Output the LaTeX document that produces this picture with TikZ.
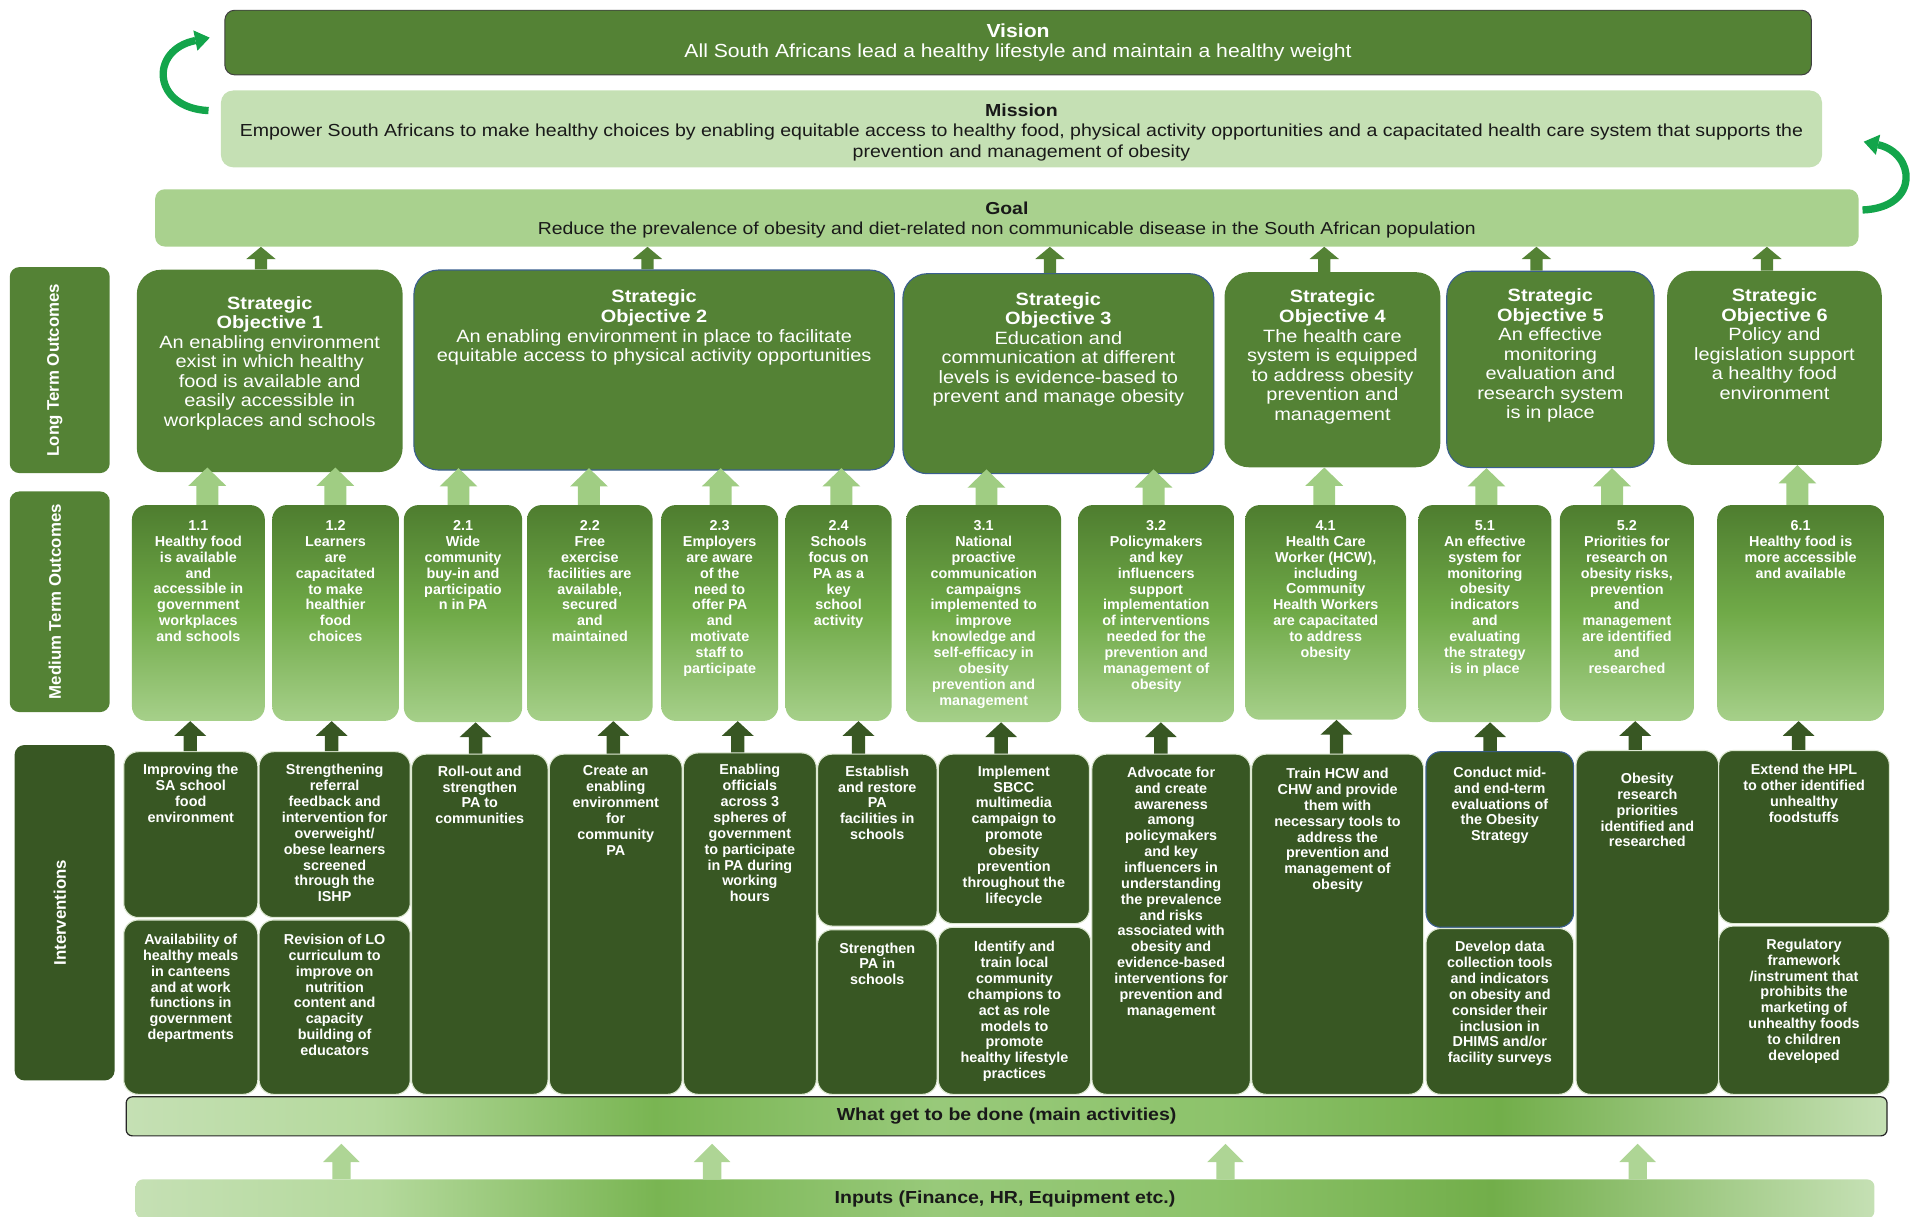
\documentclass[tikz,border=0pt]{standalone}
\usepackage{fontspec}
\setmainfont{Liberation Sans}
\newfontfamily\widefont{Liberation Sans}[FakeStretch=1.12]
\usetikzlibrary{calc,arrows.meta}
\definecolor{vgreen}{HTML}{548235}
\definecolor{dgreen}{HTML}{385723}
\definecolor{ggreen}{HTML}{A9D18E}
\definecolor{mgreen}{HTML}{C5E0B4}
\definecolor{mtotop}{HTML}{4E7D2F}
\definecolor{mtomid}{HTML}{70AA48}
\definecolor{mtobot}{HTML}{A6D08A}
\definecolor{soblue}{HTML}{3A5F8F}
\definecolor{intedge}{HTML}{DDE8D2}
\definecolor{larr}{HTML}{A0CD83}
\definecolor{inarr}{HTML}{AED595}
\definecolor{curvgreen}{HTML}{13A54B}
\definecolor{bs1}{HTML}{B4D99C}
\definecolor{bs2}{HTML}{79B552}
\definecolor{bs3}{HTML}{98C97A}
\definecolor{bs4}{HTML}{8DC36B}
\definecolor{bs5}{HTML}{72AE4A}
\pgfdeclarehorizontalshading{barshade}{100bp}{color(0bp)=(mgreen); color(25bp)=(mgreen); color(32bp)=(bs1); color(40bp)=(bs2); color(48bp)=(bs3); color(56bp)=(bs4); color(64bp)=(bs5); color(75bp)=(mgreen); color(100bp)=(mgreen)}
% box with top-aligned text: name, style, x1, y1, x2, y2, text style, text top y, text
\newcommand\BoxT[9]{%
  \node[#2, anchor=north west, minimum width={#5pt-#3pt}, minimum height={#6pt-#4pt}] (#1) at (#3,#4) {};
  \node[#7, anchor=north] (#1t) at (#1.north |- 0,#8) {#9};}
% centred box: name, style, x1, y1, x2, y2, text
\newcommand\BoxC[7]{%
  \node[#2, anchor=north west, minimum width={#5pt-#3pt}, minimum height={#6pt-#4pt}] (#1) at (#3,#4) {#7};}
% block arrow: x, lower anchor, upper anchor, colour, half head width, half stem width, head length
\newcommand\Blk[7]{%
  \fill[#4] let \p1=(#2), \p2=(#3) in
    ({(#1-#6)*1pt},\y1) -- ({(#1-#6)*1pt},{\y2-#7pt}) -- ({(#1-#5)*1pt},{\y2-#7pt}) --
    ({#1pt},\y2) -- ({(#1+#5)*1pt},{\y2-#7pt}) -- ({(#1+#6)*1pt},{\y2-#7pt}) --
    ({(#1+#6)*1pt},\y1) -- cycle;}
\begin{document}
\begin{tikzpicture}[x=1pt,y=-1pt,
  visbox/.style={fill=vgreen, draw=black!75, line width=0.8pt, rounded corners=8pt, inner sep=0pt,
     text=white, align=center, font=\widefont\fontsize{15.5}{17}\selectfont},
  misbox/.style={fill=mgreen, rounded corners=10pt, inner sep=0pt},
  mistext/.style={text=black!90, align=center, inner sep=0pt, font=\widefont\fontsize{14.3}{17}\selectfont},
  goalbox/.style={fill=ggreen, rounded corners=8pt, inner sep=0pt},
  goaltext/.style={text=black!90, align=center, inner sep=0pt, font=\widefont\fontsize{14.2}{16}\selectfont},
  sobox/.style={fill=vgreen, rounded corners=20pt, inner sep=0pt},
  sobluebox/.style={sobox, draw=soblue, line width=0.9pt},
  sotext/.style={text=white, align=center, inner sep=0pt, font=\widefont\fontsize{14.6}{16}\selectfont},
  mtobox/.style={top color=mtotop, bottom color=mtobot, middle color=mtomid, rounded corners=12pt, inner sep=0pt},
  mtext/.style={text=white, align=center, inner sep=0pt, font=\bfseries\fontsize{11.8}{13}\selectfont},
  intbox/.style={fill=dgreen, draw=intedge, line width=0.9pt, rounded corners=12pt, inner sep=0pt},
  intbluebox/.style={intbox, draw=soblue},
  sidebox/.style={fill=vgreen, rounded corners=8pt, inner sep=0pt},
  sidetext/.style={text=white, rotate=90, inner sep=0pt, font=\bfseries\fontsize{13.8}{16}\selectfont},
  barbox/.style={shading=barshade, rounded corners=5pt, inner sep=0pt, text=black!90,
     font=\widefont\bfseries\fontsize{14.3}{16}\selectfont},
  curvarr/.style={draw=curvgreen, line width=6pt, -{Triangle[width=17pt,length=12pt,line width=0pt]}}
]
\useasboundingbox (0,0) rectangle (1568,998);

% ---------- top tier ----------
\BoxC{vision}{visbox}{184}{8}{1485}{61}{\textbf{Vision}\\All South Africans lead a healthy lifestyle and maintain a healthy weight}
\BoxT{mission}{misbox}{181}{74}{1494}{137}{mistext}{84.6}{\textbf{Mission}\\Empower South Africans to make healthy choices by enabling equitable access to healthy food, physical activity opportunities and a capacitated health care system that supports the\\prevention and management of obesity}
\BoxT{goal}{goalbox}{127}{155}{1524}{202}{goaltext}{165.8}{\textbf{Goal}\\Reduce the prevalence of obesity and diet-related non communicable disease in the South African population}

\coordinate (la1) at ([xshift=-10pt,yshift=15pt]mission.west);
\coordinate (la2) at ([xshift=-12pt,yshift=4pt]vision.west);
\draw[curvarr] (la1) .. controls +(-46,-2) and +(-50,10) .. (la2);
\coordinate (ra1) at ([xshift=3pt,yshift=6.5pt]goal.east);
\coordinate (ra2) at ([xshift=34pt,yshift=-10.5pt]mission.east);
\draw[curvarr] (ra1) .. controls +(48,-2) and +(42,9) .. (ra2);

% ---------- side labels ----------
\node[sidebox, minimum width=82pt, minimum height=169pt] (lto) at (49,303.5) {};
\node[sidetext] (ltot) at ([xshift=-4pt]lto.center) {Long Term Outcomes};
\node[sidebox, minimum width=82pt, minimum height=181pt] (mto) at (49,493.5) {};
\node[sidetext] (mtot) at ([xshift=-4pt]mto.center) {Medium Term Outcomes};
\node[sidebox, fill=dgreen, minimum width=82pt, minimum height=275pt] (ivl) at (53,748.5) {};
\node[sidetext] (ivlt) at ([xshift=-4pt]ivl.center) {Interventions};

% ---------- strategic objectives ----------
\BoxT{so1}{sobox}{112}{221}{330}{387}{sotext}{242.7}{\textbf{Strategic}\\\textbf{Objective 1}\\An enabling environment\\exist in which healthy\\food is available and\\easily accessible in\\workplaces and schools}
\BoxT{so2}{sobluebox}{339}{221}{733}{385}{sotext}{237.7}{\textbf{Strategic}\\\textbf{Objective 2}\\An enabling environment in place to facilitate\\equitable access to physical activity opportunities}
\BoxT{so3}{sobluebox}{740}{224}{995}{388}{sotext}{239.7}{\textbf{Strategic}\\\textbf{Objective 3}\\Education and\\communication at different\\levels is evidence-based to\\prevent and manage obesity}
\BoxT{so4}{sobox}{1004}{223}{1181}{383}{sotext}{237.7}{\textbf{Strategic}\\\textbf{Objective 4}\\The health care\\system is equipped\\to address obesity\\prevention and\\management}
\BoxT{so5}{sobluebox}{1186}{222}{1356}{383}{sotext}{236.7}{\textbf{Strategic}\\\textbf{Objective 5}\\An effective\\monitoring\\evaluation and\\research system\\is in place}
\BoxT{so6}{sobox}{1367}{222}{1543}{381}{sotext}{236.7}{\textbf{Strategic}\\\textbf{Objective 6}\\Policy and\\legislation support\\a healthy food\\environment}

% ---------- medium term outcomes ----------
\BoxT{m11}{mtobox}{108}{414}{217}{591}{mtext}{426.8}{1.1\\Healthy food\\is available\\and\\accessible in\\government\\workplaces\\and schools}
\BoxT{m12}{mtobox}{223}{414}{327}{591}{mtext}{426.8}{1.2\\Learners\\are\\capacitated\\to make\\healthier\\food\\choices}
\BoxT{m21}{mtobox}{331}{414}{428}{592}{mtext}{426.8}{2.1\\Wide\\community\\buy-in and\\participatio\\n in PA}
\BoxT{m22}{mtobox}{432}{414}{535}{591}{mtext}{426.8}{2.2\\Free\\exercise\\facilities are\\available,\\secured\\and\\maintained}
\BoxT{m23}{mtobox}{542}{414}{638}{591}{mtext}{426.8}{2.3\\Employers\\are aware\\of the\\need to\\offer PA\\and\\motivate\\staff to\\participate}
\BoxT{m24}{mtobox}{644}{414}{731}{591}{mtext}{426.8}{2.4\\Schools\\focus on\\PA as a\\key\\school\\activity}
\BoxT{m31}{mtobox}{743}{414}{870}{592}{mtext}{426.8}{3.1\\National\\proactive\\communication\\campaigns\\implemented to\\improve\\knowledge and\\self-efficacy in\\obesity\\prevention and\\management}
\BoxT{m32}{mtobox}{884}{414}{1012}{592}{mtext}{426.8}{3.2\\Policymakers\\and key\\influencers\\support\\implementation\\of interventions\\needed for the\\prevention and\\management of\\obesity}
\BoxT{m41}{mtobox}{1021}{414}{1153}{590}{mtext}{426.8}{4.1\\Health Care\\Worker (HCW),\\including\\Community\\Health Workers\\are capacitated\\to address\\obesity}
\BoxT{m51}{mtobox}{1163}{414}{1272}{592}{mtext}{426.8}{5.1\\An effective\\system for\\monitoring\\obesity\\indicators\\and\\evaluating\\the strategy\\is in place}
\BoxT{m52}{mtobox}{1279}{414}{1389}{591}{mtext}{426.8}{5.2\\Priorities for\\research on\\obesity risks,\\prevention\\and\\management\\are identified\\and\\researched}
\BoxT{m61}{mtobox}{1408}{414}{1545}{591}{mtext}{426.8}{6.1\\Healthy food is\\more accessible\\and available}

% ---------- interventions ----------
\BoxT{c1a}{intbox}{101}{616}{211}{752}{mtext}{626.8}{Improving the\\SA school\\food\\environment}
\BoxT{c1b}{intbox}{101}{754}{211}{897}{mtext}{765.8}{Availability of\\healthy meals\\in canteens\\and at work\\functions in\\government\\departments}
\BoxT{c2a}{intbox}{212}{616}{336}{752}{mtext}{626.8}{Strengthening\\referral\\feedback and\\intervention for\\overweight/\\obese learners\\screened\\through the\\ISHP}
\BoxT{c2b}{intbox}{212}{754}{336}{897}{mtext}{765.8}{Revision of LO\\curriculum to\\improve on\\nutrition\\content and\\capacity\\building of\\educators}
\BoxT{c3}{intbox}{337}{618}{449}{897}{mtext}{627.8}{Roll-out and\\strengthen\\PA to\\communities}
\BoxT{c4}{intbox}{450}{618}{559}{897}{mtext}{627.8}{Create an\\enabling\\environment\\for\\community\\PA}
\BoxT{c5}{intbox}{560}{617}{669}{897}{mtext}{626.8}{Enabling\\officials\\across 3\\spheres of\\government\\to participate\\in PA during\\working\\hours}
\BoxT{c6a}{intbox}{670}{618}{768}{759}{mtext}{627.8}{Establish\\and restore\\PA\\facilities in\\schools}
\BoxT{c6b}{intbox}{670}{762}{768}{897}{mtext}{772.8}{Strengthen\\PA in\\schools}
\BoxT{c7a}{intbox}{769}{618}{893}{757}{mtext}{627.8}{Implement\\SBCC\\multimedia\\campaign to\\promote\\obesity\\prevention\\throughout the\\lifecycle}
\BoxT{c7b}{intbox}{769}{760}{894}{897}{mtext}{771.8}{Identify and\\train local\\community\\champions to\\act as role\\models to\\promote\\healthy lifestyle\\practices}
\BoxT{c8}{intbox}{895}{618}{1025}{897}{mtext}{628.8}{Advocate for\\and create\\awareness\\among\\policymakers\\and key\\influencers in\\understanding\\the prevalence\\and risks\\associated with\\obesity and\\evidence-based\\interventions for\\prevention and\\management}
\BoxT{c9}{intbox}{1026}{618}{1167}{897}{mtext}{629.8}{Train HCW and\\CHW and provide\\them with\\necessary tools to\\address the\\prevention and\\management of\\obesity}
\BoxT{c10a}{intbluebox}{1169}{616}{1290}{760}{mtext}{628.8}{Conduct mid-\\and end-term\\evaluations of\\the Obesity\\Strategy}
\BoxT{c10b}{intbox}{1169}{761}{1290}{897}{mtext}{771.8}{Develop data\\collection tools\\and indicators\\on obesity and\\consider their\\inclusion in\\DHIMS and/or\\facility surveys}
\BoxT{c11}{intbox}{1292}{615}{1409}{897}{mtext}{633.8}{Obesity\\research\\priorities\\identified and\\researched}
\BoxT{c12a}{intbox}{1409}{615}{1549}{757}{mtext}{626.8}{Extend the HPL\\to other identified\\unhealthy\\foodstuffs}
\BoxT{c12b}{intbox}{1409}{759}{1549}{897}{mtext}{769.8}{Regulatory\\framework\\/instrument that\\prohibits the\\marketing of\\unhealthy foods\\to children\\developed}

% ---------- bottom bars ----------
\node[barbox, draw=black!85, line width=1pt, anchor=north west, minimum width=1444pt, minimum height=32pt] (act) at (103,899) {What get to be done (main activities)};
\node[barbox, rounded corners=6pt, anchor=north west, minimum width=1426pt, minimum height=32pt] (inp) at (111,967) {Inputs (Finance, HR, Equipment etc.)};

% ---------- block arrows ----------
% SO -> goal
\Blk{214}{so1.north}{goal.south}{vgreen}{12}{5}{10}
\Blk{531}{so2.north}{goal.south}{vgreen}{12}{5}{10}
\Blk{861}{so3.north}{goal.south}{vgreen}{12}{5}{10}
\Blk{1086}{so4.north}{goal.south}{vgreen}{12}{5}{10}
\Blk{1260}{so5.north}{goal.south}{vgreen}{12}{5}{10}
\Blk{1449}{so6.north}{goal.south}{vgreen}{12}{5}{10}
% MTO -> SO
\Blk{170}{m11.north}{[yshift=4pt]so1.south}{larr}{15.5}{9}{15}
\Blk{275}{m12.north}{[yshift=4pt]so1.south}{larr}{15.5}{9}{15}
\Blk{376}{m21.north}{[yshift=2pt]so2.south}{larr}{15.5}{9}{15}
\Blk{483}{m22.north}{[yshift=2pt]so2.south}{larr}{15.5}{9}{15}
\Blk{591}{m23.north}{[yshift=2pt]so2.south}{larr}{15.5}{9}{15}
\Blk{690}{m24.north}{[yshift=2pt]so2.south}{larr}{15.5}{9}{15}
\Blk{809}{m31.north}{[yshift=4pt]so3.south}{larr}{15.5}{9}{15}
\Blk{946}{m32.north}{[yshift=4pt]so3.south}{larr}{15.5}{9}{15}
\Blk{1086}{m41.north}{so4.south}{larr}{15.5}{9}{15}
\Blk{1219}{m51.north}{so5.south}{larr}{15.5}{9}{15}
\Blk{1322}{m52.north}{so5.south}{larr}{15.5}{9}{15}
\Blk{1474}{m61.north}{so6.south}{larr}{15.5}{9}{15}
% interventions -> MTO
\Blk{156}{c1a.north}{m11.south}{dgreen}{13}{5.5}{12}
\Blk{272}{c2a.north}{m12.south}{dgreen}{13}{5.5}{12}
\Blk{390}{c3.north}{m21.south}{dgreen}{13}{5.5}{12}
\Blk{503}{c4.north}{m22.south}{dgreen}{13}{5.5}{12}
\Blk{605}{c5.north}{m23.south}{dgreen}{13}{5.5}{12}
\Blk{704}{c6a.north}{m24.south}{dgreen}{13}{5.5}{12}
\Blk{821}{c7a.north}{m31.south}{dgreen}{13}{5.5}{12}
\Blk{952}{c8.north}{m32.south}{dgreen}{13}{5.5}{12}
\Blk{1096}{c9.north}{m41.south}{dgreen}{13}{5.5}{12}
\Blk{1222}{c10a.north}{m51.south}{dgreen}{13}{5.5}{12}
\Blk{1341}{c11.north}{m52.south}{dgreen}{13}{5.5}{12}
\Blk{1475}{c12a.north}{m61.south}{dgreen}{13}{5.5}{12}
% inputs -> activities
\Blk{280}{inp.north}{[yshift=-6pt]act.south}{inarr}{15}{7.5}{15}
\Blk{584}{inp.north}{[yshift=-6pt]act.south}{inarr}{15}{7.5}{15}
\Blk{1005}{inp.north}{[yshift=-6pt]act.south}{inarr}{15}{7.5}{15}
\Blk{1343}{inp.north}{[yshift=-6pt]act.south}{inarr}{15}{7.5}{15}
\end{tikzpicture}
\end{document}
